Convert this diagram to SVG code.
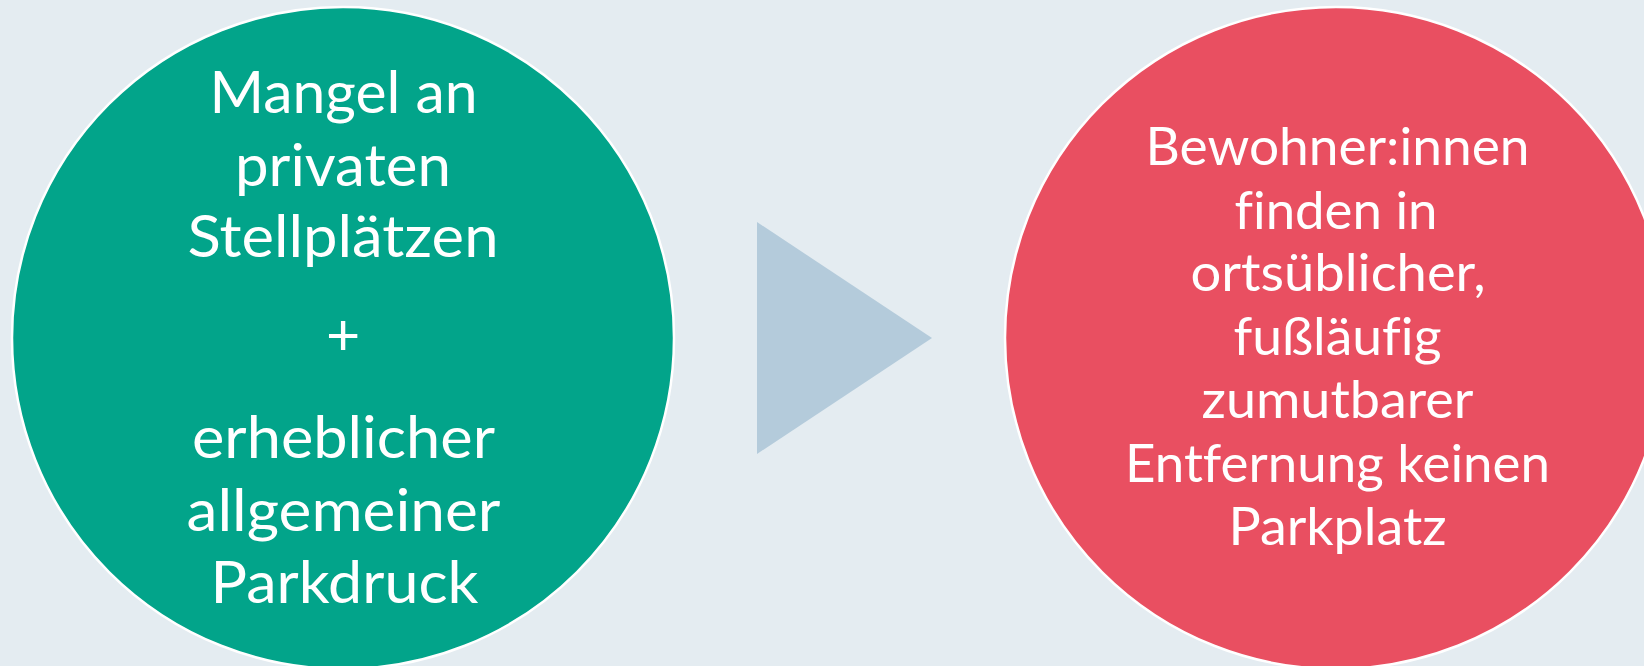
<svg xmlns="http://www.w3.org/2000/svg" width="1644" height="666" viewBox="0 0 1644 666">
  <style>
    .bg { fill: #e4ecf1; }
    .node { stroke: #ffffff; stroke-width: 2.5; }
    .green { fill: #02a48a; }
    .red { fill: #e94f61; }
    .label { font-family: Lato, "Open Sans", sans-serif; fill: #ffffff; text-anchor: middle; font-variant-ligatures: none; font-feature-settings: "liga" 0, "clig" 0; }
    .lg { font-size: 59px; }
    .lr { font-size: 52px; }
    .arrow { fill: #b4cbdb; }
  </style>
  <rect class="bg" x="0" y="0" width="1644" height="666"/>
  <g id="connectors">
    <polygon class="arrow" points="757,222 932,338 757,454"/>
  </g>
  <g id="node-cause">
    <circle class="node green" cx="343" cy="338" r="331"/>
    <text class="label lg" x="343.5" y="112.6" textLength="268" lengthAdjust="spacingAndGlyphs">Mangel an</text>
    <text class="label lg" x="343" y="185.6" textLength="216" lengthAdjust="spacingAndGlyphs">privaten</text>
    <text class="label lg" x="343" y="257" textLength="311" lengthAdjust="spacingAndGlyphs">Stellplätzen</text>
    <text class="label lg" x="343" y="355">+</text>
    <text class="label lg" x="343.5" y="458" textLength="303" lengthAdjust="spacingAndGlyphs">erheblicher</text>
    <text class="label lg" x="343.5" y="531" textLength="314" lengthAdjust="spacingAndGlyphs">allgemeiner</text>
    <text class="label lg" x="344.5" y="603" textLength="268" lengthAdjust="spacingAndGlyphs">Parkdruck</text>
  </g>
  <g id="node-effect">
    <circle class="node red" cx="1336" cy="338" r="331"/>
    <text class="label lr" x="1337.5" y="164.8" textLength="384" lengthAdjust="spacingAndGlyphs">Bewohner:innen</text>
    <text class="label lr" x="1336" y="228.5" textLength="203" lengthAdjust="spacingAndGlyphs">finden in</text>
    <text class="label lr" x="1338" y="291" textLength="295" lengthAdjust="spacingAndGlyphs">ortsüblicher,</text>
    <text class="label lr" x="1337.5" y="354.7" textLength="208" lengthAdjust="spacingAndGlyphs">fußläufig</text>
    <text class="label lr" x="1337.5" y="418.4" textLength="272" lengthAdjust="spacingAndGlyphs">zumutbarer</text>
    <text class="label lr" x="1337.5" y="482" textLength="425" lengthAdjust="spacingAndGlyphs">Entfernung keinen</text>
    <text class="label lr" x="1337.5" y="545" textLength="218" lengthAdjust="spacingAndGlyphs">Parkplatz</text>
  </g>
</svg>
